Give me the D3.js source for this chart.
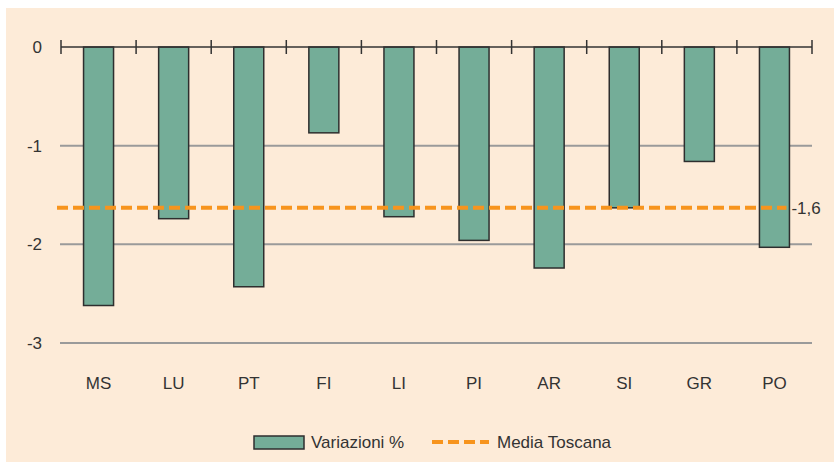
<!DOCTYPE html>
<html>
<head>
<meta charset="utf-8">
<script src="https://cdn.jsdelivr.net/npm/d3@7"></script>
<style>
  body { margin: 0; background: #fff; }
  svg text { font-family: "Liberation Sans Narrow", "Liberation Sans", "DejaVu Sans Condensed", sans-serif; fill: #333; }
</style>
</head>
<body>
<div id="chart"></div>
<script>
const provinces = ["MS", "LU", "PT", "FI", "LI", "PI", "AR", "SI", "GR", "PO"];
const variazioni = [-2.62, -1.74, -2.43, -0.87, -1.72, -1.96, -2.24, -1.63, -1.16, -2.03];
const mediaToscana = -1.63;
const mediaLabel = "-1,6";
const yTicks = [0, -1, -2, -3];

const width = 834, height = 462;
const margin = { top: 47, right: 22, bottom: 119, left: 61 };

const svg = d3.select("#chart").append("svg")
    .attr("width", width).attr("height", height);

svg.append("rect")
    .attr("x", 6).attr("y", 8)
    .attr("width", width - 6).attr("height", height - 8)
    .attr("fill", "#fdebd8");

const x = d3.scaleBand()
    .domain(provinces)
    .range([margin.left, width - margin.right]);

const y = d3.scaleLinear()
    .domain([0, -3])
    .range([margin.top, height - margin.bottom]);

// gridlines
svg.selectAll(".grid")
    .data(yTicks.filter(d => d !== 0))
    .enter()
    .append("line")
    .attr("x1", margin.left - 1)
    .attr("x2", width - margin.right)
    .attr("y1", d => y(d))
    .attr("y2", d => y(d))
    .attr("stroke", "#9a9a9a")
    .attr("stroke-width", 2);

// y labels
svg.selectAll(".ylab")
    .data(yTicks)
    .enter()
    .append("text")
    .attr("x", 42)
    .attr("y", d => y(d))
    .attr("dy", ".35em")
    .attr("text-anchor", "end")
    .attr("font-size", 17)
    .text(d => d === 0 ? "0" : "-" + Math.abs(d));

// bars
svg.selectAll(".bar")
    .data(variazioni)
    .enter()
    .append("rect")
    .attr("x", (d, i) => x(provinces[i]) + x.bandwidth() / 2 - 15)
    .attr("y", y(0))
    .attr("width", 30)
    .attr("height", d => y(d) - y(0))
    .attr("fill", "#74ad98")
    .attr("stroke", "#2e2e2e")
    .attr("stroke-width", 1.5);

// zero axis with ticks
svg.append("line")
    .attr("x1", margin.left).attr("x2", width - margin.right)
    .attr("y1", y(0)).attr("y2", y(0))
    .attr("stroke", "#333").attr("stroke-width", 1.5);
const tickPos = provinces.map(p => x(p)).concat([x.range()[1]]);
svg.selectAll(".tk")
    .data(tickPos)
    .enter()
    .append("line")
    .attr("x1", d => d).attr("x2", d => d)
    .attr("y1", y(0) - 7).attr("y2", y(0) + 7)
    .attr("stroke", "#333").attr("stroke-width", 1.5);

// category labels
svg.selectAll(".xlab")
    .data(provinces)
    .enter()
    .append("text")
    .attr("x", d => x(d) + x.bandwidth() / 2)
    .attr("y", 383)
    .attr("dy", ".35em")
    .attr("text-anchor", "middle")
    .attr("font-size", 17)
    .text(d => d);

// media line
svg.append("line")
    .attr("x1", margin.left - 4)
    .attr("x2", x("PO") + x.bandwidth() / 2 + 12)
    .attr("y1", y(mediaToscana))
    .attr("y2", y(mediaToscana))
    .attr("stroke", "#f7941d")
    .attr("stroke-width", 4)
    .attr("stroke-dasharray", "11,5");

svg.append("text")
    .attr("x", x("PO") + x.bandwidth() / 2 + 17)
    .attr("y", y(mediaToscana))
    .attr("dy", ".35em")
    .attr("font-size", 17)
    .text(mediaLabel);

// legend
const leg = svg.append("g");
leg.append("rect")
    .attr("x", 254).attr("y", 436)
    .attr("width", 50).attr("height", 13)
    .attr("fill", "#74ad98").attr("stroke", "#2e2e2e").attr("stroke-width", 1.5);
leg.append("text")
    .attr("x", 311).attr("y", 442).attr("dy", ".35em")
    .attr("font-size", 17).text("Variazioni %");
leg.append("line")
    .attr("x1", 432).attr("x2", 489)
    .attr("y1", 442).attr("y2", 442)
    .attr("stroke", "#f7941d").attr("stroke-width", 4)
    .attr("stroke-dasharray", "11,5");
leg.append("text")
    .attr("x", 497).attr("y", 442).attr("dy", ".35em")
    .attr("font-size", 17).text("Media Toscana");
</script>
</body>
</html>
